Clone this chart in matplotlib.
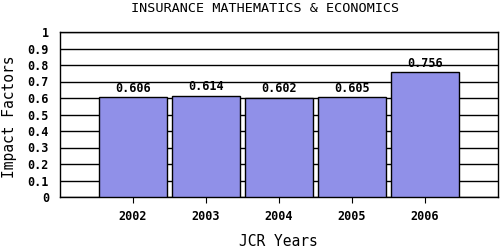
import matplotlib.pyplot as plt

years = ['2002', '2003', '2004', '2005', '2006']
impact = [0.606, 0.614, 0.602, 0.605, 0.756]
yticks = [0, 0.1, 0.2, 0.3, 0.4, 0.5, 0.6, 0.7, 0.8, 0.9, 1]
ytick_labels = ['0', '0.1', '0.2', '0.3', '0.4', '0.5', '0.6', '0.7', '0.8', '0.9', '1']

plt.rcParams['font.family'] = 'DejaVu Sans Mono'

fig = plt.figure(figsize=(5, 2.5), dpi=100)
ax = fig.add_axes([0.12, 0.212, 0.876, 0.66])

pos = list(range(1, len(years) + 1))
ax.bar(pos, impact, width=0.92, color='#9090e8', edgecolor='black', linewidth=1, zorder=3)
for x, v in zip(pos, impact):
    ax.text(x, v + 0.015, '%.3f' % v, ha='center', va='bottom', fontsize=8.5, fontweight='bold', zorder=4)

ax.set_xlim(0, 6)
ax.set_ylim(0, 1)
ax.set_xticks(pos)
ax.set_xticklabels(years, fontsize=8.5, fontweight='bold')
ax.set_yticks(yticks)
ax.set_yticklabels(ytick_labels, fontsize=8.5, fontweight='bold')
ax.tick_params(axis='y', length=0, pad=8)
ax.tick_params(axis='x', length=4, direction='out', pad=5)
ax.grid(axis='y', color='black', linewidth=1, zorder=0)
for s in ax.spines.values():
    s.set_linewidth(1)

# titles placed in figure coordinates
fig.text(0.53, 0.964, 'INSURANCE MATHEMATICS & ECONOMICS', fontsize=9.7, ha='center', va='center')
fig.text(0.556, 0.032, 'JCR Years', fontsize=10.5, ha='center', va='center')
fig.text(0.02, 0.535, 'Impact Factors', fontsize=10.5, ha='center', va='center', rotation=90)

fig.savefig('out.png', dpi=100)
